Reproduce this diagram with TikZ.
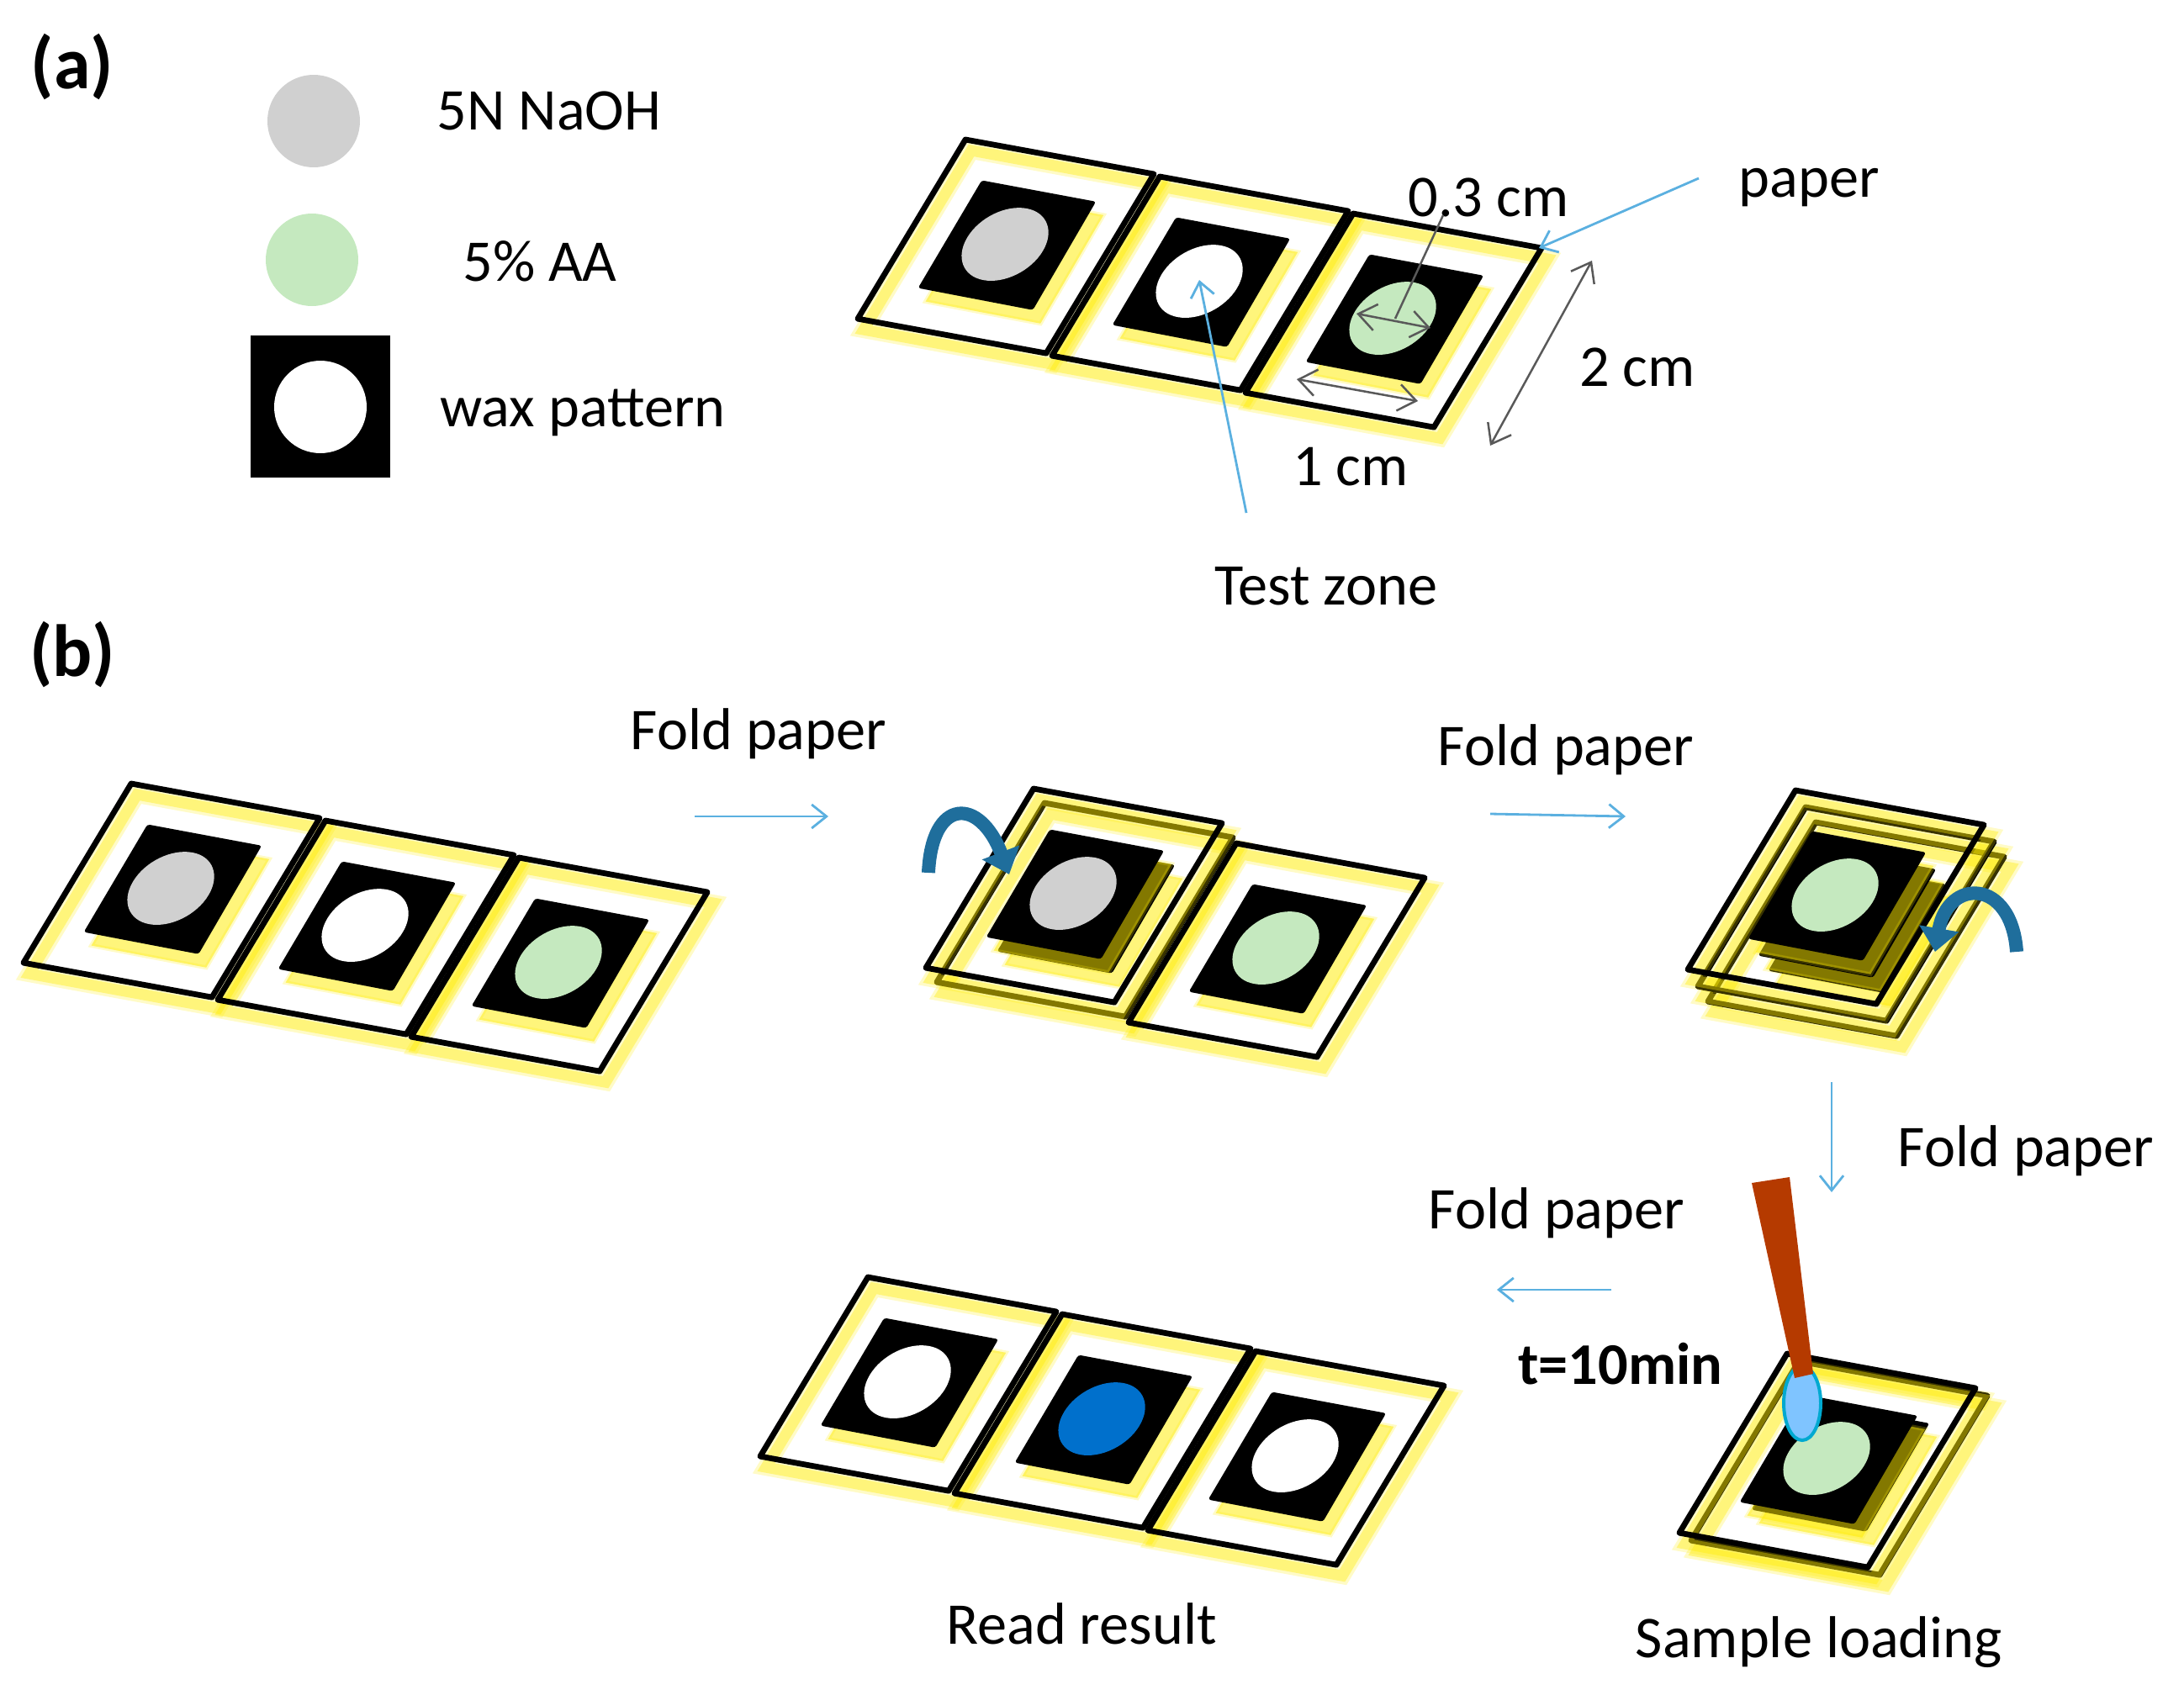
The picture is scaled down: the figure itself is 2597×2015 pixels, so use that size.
\documentclass[tikz,border=0pt]{standalone}
\usepackage{fontspec}
\setmainfont{Carlito}
\usetikzlibrary{arrows.meta}
\definecolor{zonegray}{HTML}{D0D0D0}
\definecolor{zonegreen}{HTML}{C5E9BF}
\definecolor{zoneblue}{HTML}{0070CC}
\definecolor{shadeyellow}{HTML}{FFEB00}
\definecolor{leaderblue}{HTML}{5BB0E0}
\definecolor{foldteal}{HTML}{1F6E9C}
\definecolor{swabbrown}{HTML}{B53A00}
\definecolor{swabtip}{HTML}{7FC4FF}
\definecolor{swabedge}{HTML}{00A9D0}
\tikzset{
	paperaxes/.style={x={(2.24cm,-0.41cm)},y={(-1.28cm,-2.13cm)}},
	shadewide/.style={draw=shadeyellow,line width=0.20cm,opacity=0.22},
	shadenarrow/.style={draw=shadeyellow,line width=0.13cm,opacity=0.38},
	paperline/.style={draw=black,line width=0.068cm,line join=round},
	waxhalo/.style={draw=shadeyellow,fill=shadeyellow,line width=0.05cm,opacity=0.22},
	waxshade/.style={fill=shadeyellow,opacity=0.38},
	waxsquare/.style={fill=black,rounded corners=0.03cm},
	label/.style={font=\fontsize{20}{24}\selectfont,inner sep=0pt},
	boldlabel/.style={label,font=\fontsize{20}{24}\selectfont\bfseries},
	partlabel/.style={label,font=\fontsize{25}{30}\selectfont\bfseries},
	leader/.style={draw=leaderblue,line width=0.028cm,-{Straight Barb[length=5pt,width=8pt]}},
	dimline/.style={draw=black!65,line width=0.025cm},
	foldarc/.style={draw=foldteal,line width=0.16cm,-{Triangle[length=0.28cm,width=0.46cm]}}
}
\def\waxpath{(0.195,0.19) -- (0.802,0.192) -- (0.812,0.795) -- (0.2,0.79) -- cycle}
\def\papercell[#1](#2,#3){
	\begin{scope}[shift={(#2+7,#3+13)},paperaxes]
		\draw[shadewide] (0,0) -- (1,0) -- (1,1) -- (0,1) -- cycle;
		\draw[shadenarrow] (0,0) -- (1,0) -- (1,1) -- (0,1) -- cycle;
	\end{scope}
	\begin{scope}[shift={(#2+9,#3+16)},paperaxes]
		\draw[waxhalo] \waxpath;
		\fill[waxshade] \waxpath;
	\end{scope}
	\begin{scope}[shift={(#2,#3)},paperaxes]
		\draw[paperline] (0,0) -- (1,0) -- (1,1) -- (0,1) -- cycle;
		\fill[waxsquare] \waxpath;
		\fill[#1] (0.49,0.49) circle (0.2);
	\end{scope}
}
\def\paperstrip(#1,#2)#3#4#5{
	\papercell[#3](#1,#2)
	\papercell[#4](#1+231,#2+44)
	\papercell[#5](#1+461,#2+88)
}

\begin{document}
\begin{tikzpicture}[x=0.01cm,y=-0.01cm]
		\useasboundingbox (0,0) rectangle (2597,2015);
		
		%%%%% (a) %%%%%
		\node[partlabel] (parta) at (86,80) {(a)};
		
		\fill[zonegray] (373,144) circle (55);
		\fill[zonegreen] (371,309) circle (55);
		\fill[black] (298,399) rectangle (464,568);
		\fill[white] (381,484) circle (55);
		\node[label] (naoh) at (653,132) {5N NaOH};
		\node[label] (aa) at (642,311) {5\% AA};
		\node[label] (wax) at (693,491) {wax pattern};
		
		\paperstrip(1148,166){zonegray}{white}{zonegreen}
		
		\node[label] (paper) at (2151,223) {paper};
		\node[label] (thick) at (1770,235) {0.3 cm};
		\node[label] (length) at (1947,437) {2 cm};
		\node[label] (width) at (1606,555) {1 cm};
		\node[label] (testzone) at (1577,697) {Test zone};
		
		\coordinate (papertail) at (2020,212);
		\coordinate (papertip) at (1830,295);
		\coordinate (zonetail) at (1482,610);
		\coordinate (zonetip) at (1426,333);
		\draw[leader] (papertail) -- (papertip);
		\draw[leader] (zonetail) -- (zonetip);
		
		\coordinate (lengthtop) at (1893,310);
		\coordinate (lengthend) at (1772,530);
		\coordinate (widthleft) at (1542,451);
		\coordinate (widthright) at (1686,477);
		\coordinate (holeleft) at (1613,373);
		\coordinate (holeright) at (1701,390);
		\coordinate (holemid) at (1659,379);
		\coordinate (holelabel) at (1716,256);
		\draw[dimline,{Straight Barb[length=6pt,width=9pt]}-{Straight Barb[length=6pt,width=9pt]}] (lengthtop) -- (lengthend);
		\draw[dimline,{Straight Barb[length=6pt,width=9pt]}-{Straight Barb[length=6pt,width=9pt]}] (widthleft) -- (widthright);
		\draw[dimline,{Straight Barb[length=6pt,width=9pt]}-{Straight Barb[length=6pt,width=9pt]}] (holeleft) -- (holeright);
		\draw[dimline] (holemid) -- (holelabel);
		
		%%%%% (b) %%%%%
		\node[partlabel] (partb) at (86,779) {(b)};
		
		\paperstrip(156,932){zonegray}{white}{zonegreen}
		
		\node[label] (foldone) at (902,873) {Fold paper};
		\coordinate (foldonea) at (826,971);
		\coordinate (foldoneb) at (985,971);
		\draw[leader] (foldonea) -- (foldoneb);
		
		% first fold
		\papercell[zonegray](1242,955)
		\papercell[zonegray](1229,938)
		\papercell[zonegreen](1470,1003)
		\draw[foldarc] (1104,1038) .. controls (1108,948) and (1165,948) .. (1200,1040);
		
		\node[label] (foldtwo) at (1862,892) {Fold paper};
		\coordinate (foldtwoa) at (1772,968);
		\coordinate (foldtwob) at (1933,971);
		\draw[leader] (foldtwoa) -- (foldtwob);
		
		% second fold
		\papercell[zonegreen](2159,978)
		\papercell[zonegray](2147,960)
		\papercell[zonegreen](2135,940)
		\draw[foldarc] (2398,1132) .. controls (2392,1044) and (2316,1044) .. (2301,1132);
		
		\coordinate (foldthreea) at (2178,1287);
		\coordinate (foldthreeb) at (2178,1418);
		\draw[leader] (foldthreea) -- (foldthreeb);
		\node[label] (foldthree) at (2409,1369) {Fold paper};
		
		% sample loading
		\papercell[zonegray](2139,1619)
		\papercell[zonegreen](2125,1610)
		\draw[swabedge,line width=0.04cm,fill=swabtip] (2143,1669) ellipse (22 and 44);
		\fill[swabbrown] (2083,1407) -- (2128,1400) -- (2156,1634) -- (2134,1639) -- cycle;
		\node[label] (sample) at (2163,1953) {Sample loading};
		
		\node[label] (foldfour) at (1851,1443) {Fold paper};
		\coordinate (foldfoura) at (1916,1534);
		\coordinate (foldfourb) at (1780,1534);
		\draw[leader] (foldfoura) -- (foldfourb);
		\node[boldlabel] (time) at (1927,1622) {t=10min};
		
		\paperstrip(1032,1519){white}{zoneblue}{white}
		\node[label] (result) at (1286,1931) {Read result};
		
\end{tikzpicture}
\end{document}
